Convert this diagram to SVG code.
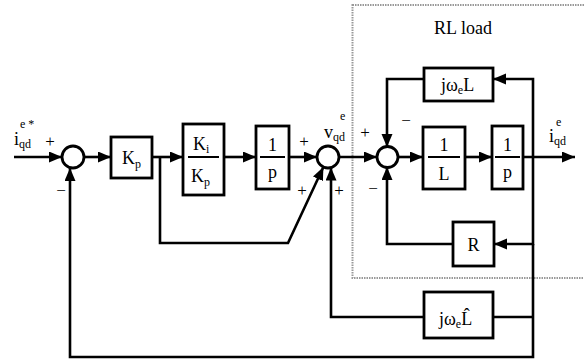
<svg xmlns="http://www.w3.org/2000/svg" width="584" height="362" viewBox="0 0 584 362">
<style>
.ln{fill:none;stroke:#000;stroke-width:2.6}
.bx{fill:#fff;stroke:#000;stroke-width:2.8}
.sm{fill:#fff;stroke:#000;stroke-width:2.8}
.t{font-family:"Liberation Serif",serif;font-size:18px;fill:#000}
.s{font-family:"Liberation Serif",serif;font-size:12px;fill:#000}
.sg{font-family:"Liberation Serif",serif;font-size:17px;fill:#000;text-anchor:middle}
.c{text-anchor:middle}
.bar{stroke:#000;stroke-width:2}
</style>
<defs>
<marker id="ar" markerUnits="userSpaceOnUse" markerWidth="14" markerHeight="12" refX="13" refY="5.5" orient="auto">
<path d="M0,0 L13,5.5 L0,11 z" fill="#000"/>
</marker>
</defs>
<rect id="rlbox" x="352.5" y="5" width="240" height="273" fill="none" stroke="#999" stroke-width="2" stroke-dasharray="1.5 1"/>
<text class="t c" x="463" y="34">RL load</text>
<g id="connectors">
<path class="ln" d="M14,157 H62" marker-end="url(#ar)"/>
<path class="ln" d="M84,157 H111" marker-end="url(#ar)"/>
<path class="ln" d="M152,157 H183" marker-end="url(#ar)"/>
<path class="ln" d="M224,157 H256" marker-end="url(#ar)"/>
<path class="ln" d="M289,157 H317" marker-end="url(#ar)"/>
<path class="ln" d="M160,157 V243 H288 L323.4,167" marker-end="url(#ar)"/>
<path class="ln" d="M424,317 H331 V167.6" marker-end="url(#ar)"/>
<path class="ln" d="M533,317 H493"/>
<path class="ln" d="M339,157 H377" marker-end="url(#ar)"/>
<path class="ln" d="M398,157 H423" marker-end="url(#ar)"/>
<path class="ln" d="M465,157 H492" marker-end="url(#ar)"/>
<path class="ln" d="M523,157 H575" marker-end="url(#ar)"/>
<path class="ln" d="M533,157 V79 H493" marker-end="url(#ar)"/>
<path class="ln" d="M424,79 H387 V147" marker-end="url(#ar)"/>
<path class="ln" d="M533,157 V244 H494" marker-end="url(#ar)"/>
<path class="ln" d="M453,244 H387 V167" marker-end="url(#ar)"/>
<path class="ln" d="M533,244 V357 H70 V168" marker-end="url(#ar)"/>
</g>
<g id="sum1"><circle class="sm" cx="73" cy="157" r="11"/></g>
<g id="sum2"><circle class="sm" cx="328" cy="157" r="11"/></g>
<g id="sum3"><circle class="sm" cx="387.5" cy="157" r="10.5"/></g>
<g id="kp">
<rect class="bx" x="111" y="137" width="41" height="41"/>
<text class="t" x="122" y="164">K<tspan class="s" dy="4">p</tspan></text>
</g>
<g id="kikp">
<rect class="bx" x="183" y="124" width="41" height="71"/>
<text class="t" x="193" y="150">K<tspan class="s" dy="3">i</tspan></text>
<line class="bar" x1="188" y1="157" x2="219" y2="157"/>
<text class="t" x="191" y="182">K<tspan class="s" dy="4">p</tspan></text>
</g>
<g id="int1">
<rect class="bx" x="256" y="126" width="33" height="63"/>
<text class="t c" x="272.5" y="151">1</text>
<line class="bar" x1="260" y1="157" x2="285" y2="157"/>
<text class="t c" x="272.5" y="178">p</text>
</g>
<g id="jwl">
<rect class="bx" x="424" y="68" width="69" height="33"/>
<text class="t" x="441" y="91">jω<tspan class="s" dy="3">e</tspan><tspan dy="-3">L</tspan></text>
</g>
<g id="invL">
<rect class="bx" x="423" y="127" width="42" height="62"/>
<text class="t c" x="444" y="151">1</text>
<line class="bar" x1="428" y1="157" x2="460" y2="157"/>
<text class="t c" x="444" y="180">L</text>
</g>
<g id="int2">
<rect class="bx" x="492" y="126" width="31" height="63"/>
<text class="t c" x="507.5" y="151">1</text>
<line class="bar" x1="495" y1="157" x2="520" y2="157"/>
<text class="t c" x="507.5" y="178">p</text>
</g>
<g id="R">
<rect class="bx" x="453" y="222" width="41" height="44"/>
<text class="t c" x="473.5" y="251">R</text>
</g>
<g id="jwlhat">
<rect class="bx" x="424" y="292" width="69" height="46"/>
<text class="t" x="439" y="325">jω<tspan class="s" dy="3">e</tspan><tspan dy="-3">L̂</tspan></text>
</g>
<g id="labels">
<text class="t" x="14" y="145">i<tspan class="s" dy="3">qd</tspan></text>
<text class="s" x="20" y="128">e *</text>
<text class="sg" x="50" y="147">+</text>
<text class="sg" x="61" y="196">−</text>
<text class="sg" x="304" y="147">+</text>
<text class="sg" x="302" y="196">+</text>
<text class="sg" x="339" y="196">+</text>
<text class="t" x="324" y="138">v<tspan class="s" dy="3">qd</tspan></text>
<text class="s" x="340" y="120">e</text>
<text class="sg" x="365" y="138">+</text>
<text class="sg" x="406" y="126">−</text>
<text class="sg" x="373" y="194">−</text>
<text class="t" x="549" y="142">i<tspan class="s" dy="3">qd</tspan></text>
<text class="s" x="556" y="126">e</text>
</g>
</svg>
